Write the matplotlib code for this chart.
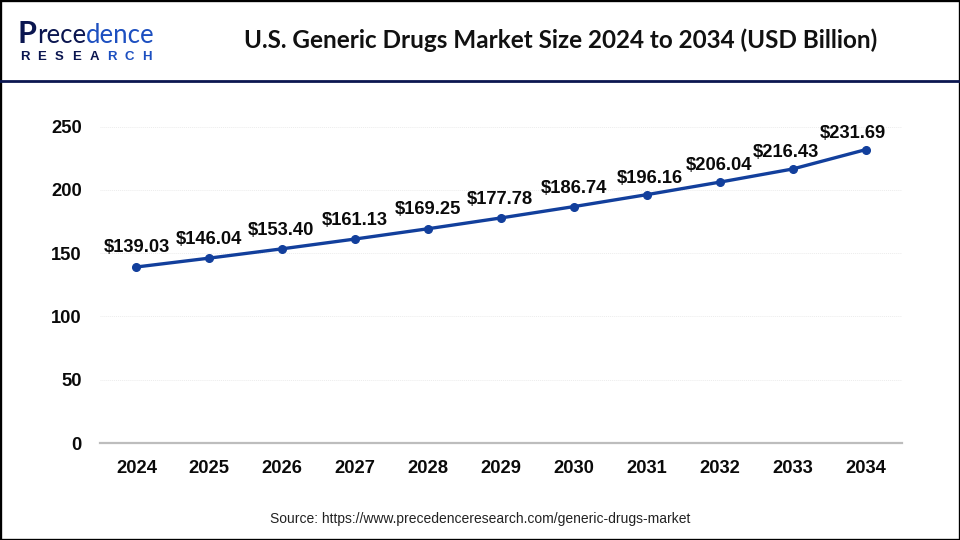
import matplotlib
matplotlib.use('Agg')
import matplotlib.pyplot as plt

years = ['2024', '2025', '2026', '2027', '2028', '2029', '2030', '2031', '2032', '2033', '2034']
market_size = [139.03, 146.04, 153.40, 161.13, 169.25, 177.78, 186.74, 196.16, 206.04, 216.43, 231.69]
y_ticks = [0, 50, 100, 150, 200, 250]
label_dx = [0, 0, -1, 0, 0, -1, 0, 3, -1, -7, -13]
label_dy = [11, 10, 10, 10, 11, 10, 10, 8, 8, 8, 8]

W, H = 960, 540
NAVY = '#0b1650'
BLUE = '#1c4fc0'
LINE = '#123f9c'

plt.rcParams['font.family'] = ['Liberation Sans', 'DejaVu Sans']

fig = plt.figure(figsize=(W / 100, H / 100), dpi=100)
ax = fig.add_axes([100 / W, 1 - 443 / H, 802 / W, 316.5 / H])

x = list(range(len(years)))
ax.plot(x, market_size, color=LINE, lw=2.4, marker='o', ms=5.5, zorder=3, clip_on=False)
for i, v, dx, dy in zip(x, market_size, label_dx, label_dy):
    ax.annotate(f'${v:.2f}', (i, v), xytext=(dx * 0.72, dy * 0.72), textcoords='offset points',
                ha='center', va='bottom', fontsize=13.2, fontweight='bold', color='#0a0a0a')

ax.set_xlim(-0.5, len(years) - 0.5)
ax.set_ylim(0, 250)
ax.set_xticks(x)
ax.set_xticklabels(years, fontsize=13.2, fontweight='bold', color='#0a0a0a')
ax.set_yticks(y_ticks)
ax.set_yticklabels([str(t) for t in y_ticks], fontsize=13.2, fontweight='bold', color='#0a0a0a')
ax.tick_params(length=0)
ax.tick_params(axis='x', pad=12)
ax.tick_params(axis='y', pad=13)
ax.grid(axis='y', color='#ececec', lw=0.7, ls=(0, (1, 1)))
ax.set_axisbelow(True)
for s in ['top', 'right', 'left']:
    ax.spines[s].set_visible(False)
ax.spines['bottom'].set_color('#bdbdbd')
ax.spines['bottom'].set_linewidth(1.6)

# header and frame
fig.text(561 / W, 1 - 40 / H, 'U.S. Generic Drugs Market Size 2024 to 2034 (USD Billion)',
         ha='center', va='center', fontsize=17.5, fontweight='bold', family='Lato', color='#111111')
fig.add_artist(plt.Line2D([0, 1], [1 - 81 / H] * 2, color=NAVY, lw=2))
fig.add_artist(plt.Rectangle((0, 0), 1, 1, fill=False, ec='#000000', lw=2.4, transform=fig.transFigure))

# logo
fig.text(18 / W, 1 - 43 / H, 'P', ha='left', va='baseline', fontsize=22, fontweight='bold', family='Lato', color=NAVY)
fig.text(37 / W, 1 - 43 / H, 'rece', ha='left', va='baseline', fontsize=18.5, family='Lato', color=NAVY)
fig.text(86 / W, 1 - 43 / H, 'dence', ha='left', va='baseline', fontsize=18.5, family='Lato', color=BLUE)
for i, ch in enumerate('RESEARCH'):
    fig.text((20 + i * 17.4) / W, 1 - 60 / H, ch, ha='left', va='baseline', fontsize=9.5, fontweight='bold',
             color=NAVY if i < 5 else BLUE)

fig.text(480 / W, 1 - 519 / H, 'Source: https://www.precedenceresearch.com/generic-drugs-market',
         ha='center', va='center', fontsize=10, color='#222222')

fig.savefig('out.png', dpi=100)
